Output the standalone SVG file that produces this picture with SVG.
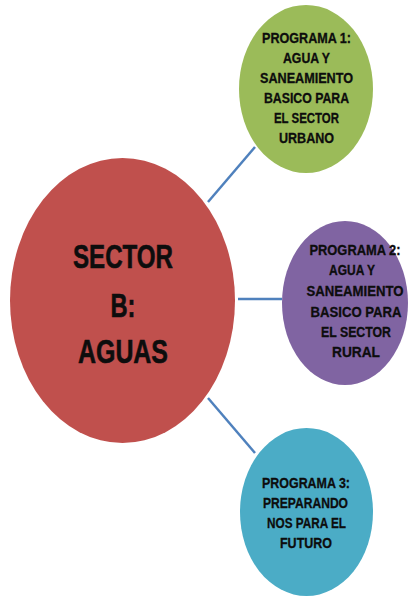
<svg xmlns="http://www.w3.org/2000/svg" width="412" height="598" viewBox="0 0 412 598">
<style>
.t{font-family:"Liberation Sans",Arial,sans-serif;font-weight:bold;fill:#0d0d0d;stroke:#0d0d0d;text-anchor:middle}
.s{font-size:14.5px;stroke-width:0.3}
.b{font-size:33px;stroke-width:0.6}
.c{stroke:#4F81BD;stroke-width:2.5;fill:none}
</style>
<rect width="412" height="598" fill="#ffffff"/>
<g id="connectors">
<line class="c" x1="208" y1="202" x2="255" y2="147"/>
<line class="c" x1="238" y1="299" x2="282" y2="299"/>
<line class="c" x1="208" y1="398" x2="255" y2="453"/>
</g>
<g id="sector-b">
<ellipse cx="122.5" cy="300.5" rx="112.5" ry="142.5" fill="#C0504D"/>
<text class="t b" x="123" y="268" textLength="100" lengthAdjust="spacingAndGlyphs">SECTOR</text>
<text class="t b" x="123" y="317" textLength="25" lengthAdjust="spacingAndGlyphs">B:</text>
<text class="t b" x="123" y="363" textLength="90" lengthAdjust="spacingAndGlyphs">AGUAS</text>
</g>
<g id="programa-1">
<ellipse cx="306" cy="89" rx="67" ry="84" fill="#9BBB59"/>
<text class="t s" x="306.5" y="43" textLength="89" lengthAdjust="spacingAndGlyphs">PROGRAMA 1:</text>
<text class="t s" x="306.5" y="63" textLength="47" lengthAdjust="spacingAndGlyphs">AGUA Y</text>
<text class="t s" x="306.5" y="83" textLength="93" lengthAdjust="spacingAndGlyphs">SANEAMIENTO</text>
<text class="t s" x="306.5" y="103" textLength="85" lengthAdjust="spacingAndGlyphs">BASICO PARA</text>
<text class="t s" x="306.5" y="123" textLength="65" lengthAdjust="spacingAndGlyphs">EL SECTOR</text>
<text class="t s" x="306.5" y="143" textLength="55" lengthAdjust="spacingAndGlyphs">URBANO</text>
</g>
<g id="programa-2">
<ellipse cx="345" cy="303" rx="63" ry="82" fill="#8064A2"/>
<text class="t s" x="355" y="255" textLength="91" lengthAdjust="spacingAndGlyphs">PROGRAMA 2:</text>
<text class="t s" x="352" y="275" textLength="46" lengthAdjust="spacingAndGlyphs">AGUA Y</text>
<text class="t s" x="355" y="296" textLength="97" lengthAdjust="spacingAndGlyphs">SANEAMIENTO</text>
<text class="t s" x="356" y="317" textLength="91" lengthAdjust="spacingAndGlyphs">BASICO PARA</text>
<text class="t s" x="356" y="337" textLength="70" lengthAdjust="spacingAndGlyphs">EL SECTOR</text>
<text class="t s" x="356" y="357" textLength="48" lengthAdjust="spacingAndGlyphs">RURAL</text>
</g>
<g id="programa-3">
<ellipse cx="306.5" cy="512" rx="66.5" ry="84" fill="#4BACC6"/>
<text class="t s" x="306" y="488" textLength="88" lengthAdjust="spacingAndGlyphs">PROGRAMA 3:</text>
<text class="t s" x="305.5" y="508" textLength="85" lengthAdjust="spacingAndGlyphs">PREPARANDO</text>
<text class="t s" x="306.5" y="528" textLength="79" lengthAdjust="spacingAndGlyphs">NOS PARA EL</text>
<text class="t s" x="306" y="548" textLength="52" lengthAdjust="spacingAndGlyphs">FUTURO</text>
</g>
</svg>
